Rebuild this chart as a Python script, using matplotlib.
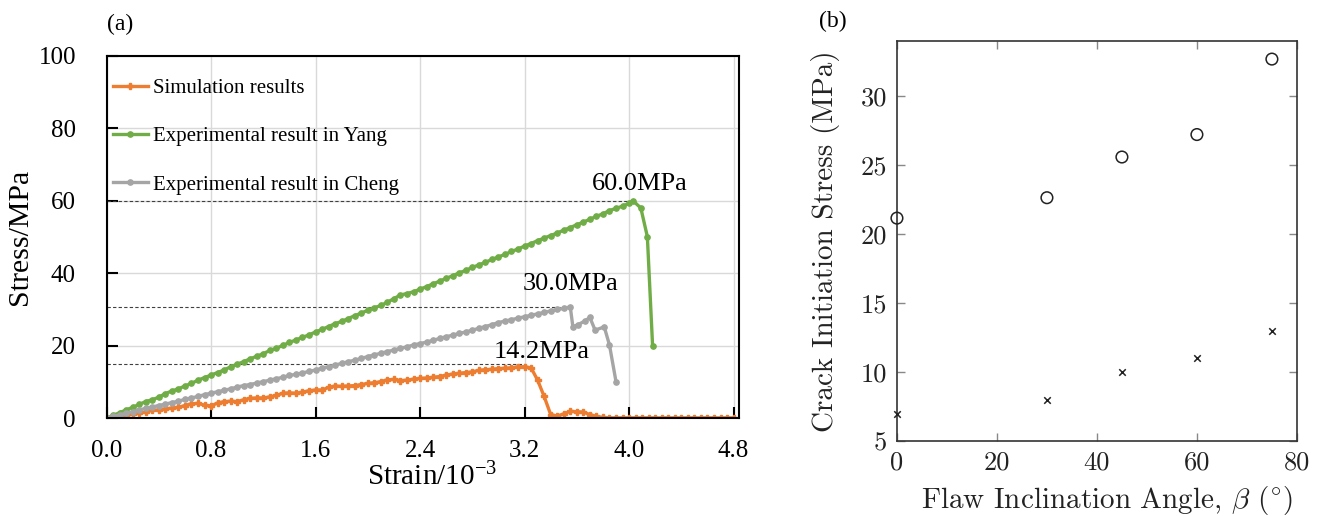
"""
Stress-strain curves (a) and crack initiation stress vs flaw angle (b)
"""

import numpy as np
import matplotlib
matplotlib.use("Agg")
import matplotlib.pyplot as plt

plt.rcParams['mathtext.fontset'] = 'cm'

# ---- panel (a) data: stress in MPa sampled every 0.05e-3 strain ----
STEP = 0.05

sim_stress = [
    0.0, 0.2, 0.5, 0.8, 1.1, 1.4, 1.7, 2.2, 2.3, 2.6, 2.8, 3.0, 3.5, 4.0, 4.1, 3.6, 3.4, 4.2, 4.6, 4.7,
    4.6, 5.1, 5.5, 5.6, 5.6, 5.9, 6.3, 6.9, 7.0, 6.9, 7.2, 7.6, 7.8, 7.8, 8.5, 8.9, 8.8, 8.9, 9.0, 9.3,
    9.6, 9.8, 10.1, 10.6, 10.7, 10.4, 10.5, 10.8, 11.0, 11.1, 11.3, 11.5, 11.9, 12.2, 12.4, 12.6, 12.8, 13.2, 13.4, 13.5,
    13.7, 13.8, 13.9, 14.2, 14.2, 13.9, 10.5, 6.0, 1.0, 0.6, 1.2, 1.9, 1.8, 1.7, 1.0, 0.5, 0.2, 0.1, 0.1, 0.1,
    0.1, 0.1, 0.1, 0.1, 0.1, 0.1, 0.1, 0.1, 0.1, 0.1, 0.1, 0.1, 0.1, 0.1, 0.1, 0.1, 0.1,
]

yang_rise = [
    0.0, 0.8, 1.5, 2.3, 3.0, 3.8, 4.6, 5.1, 5.8, 6.8, 7.5, 8.1, 8.9, 9.6, 10.5, 11.2, 11.9, 12.6, 13.3, 14.2,
    14.9, 15.6, 16.4, 17.1, 17.8, 18.7, 19.3, 20.1, 20.9, 21.6, 22.3, 23.0, 23.8, 24.5, 25.3, 26.1, 26.7, 27.5, 28.3, 29.0,
    29.8, 30.5, 31.1, 32.0, 33.0, 34.0, 34.4, 34.9, 35.6, 36.3, 37.1, 37.8, 38.6, 39.3, 40.1, 40.8, 41.6, 42.3, 43.0, 43.8,
    44.5, 45.2, 46.0, 46.7, 47.5, 48.2, 49.0, 49.7, 50.4, 51.1, 51.9, 52.6, 53.4, 54.1, 54.9, 55.7, 56.4, 57.3, 57.9, 58.5,
    59.3,
]
yang_tail_strain = [4.03, 4.09, 4.14, 4.18]
yang_tail_stress = [60.0, 58.0, 50.1, 20.0]

cheng_rise = [
    0.0, 0.5, 0.9, 1.4, 1.8, 2.3, 2.7, 3.1, 3.5, 3.9, 4.3, 4.7, 5.2, 5.6, 6.0, 6.5, 6.9, 7.3, 7.7, 8.1,
    8.6, 9.0, 9.3, 9.7, 10.1, 10.5, 10.9, 11.3, 11.8, 12.1, 12.5, 12.9, 13.3, 13.8, 14.2, 14.7, 15.1, 15.6, 16.0, 16.5,
    17.0, 17.5, 17.9, 18.4, 18.8, 19.3, 19.7, 20.2, 20.6, 21.0, 21.5, 22.0, 22.5, 22.9, 23.4, 23.8, 24.3, 24.8, 25.3, 25.8,
    26.4, 26.8, 27.2, 27.6, 28.0, 28.4, 28.8, 29.2, 29.6, 30.0, 30.3,
]
cheng_tail_strain = [3.55, 3.57, 3.61, 3.66, 3.70, 3.74, 3.81, 3.85, 3.90]
cheng_tail_stress = [30.7, 25.2, 25.8, 26.8, 27.8, 24.3, 25.2, 20.2, 10.1]

peak_levels = [60.0, 30.7, 14.9]
peak_ends = [4.03, 3.55, 3.20]
peak_labels = ['60.0MPa', '30.0MPa', '14.2MPa']
peak_label_pos = [(4.08, 64.5), (3.55, 37.0), (3.33, 18.3)]

# ---- panel (b) data ----
angle = [0, 30, 45, 60, 75]
stress_circle = [21.16, 22.64, 25.59, 27.22, 32.69]
stress_cross = [6.96, 8.0, 9.98, 11.0, 12.99]

sim_strain = np.arange(len(sim_stress)) * STEP
yang_strain = np.concatenate([np.arange(len(yang_rise)) * STEP, yang_tail_strain])
yang_stress = yang_rise + yang_tail_stress
cheng_strain = np.concatenate([np.arange(len(cheng_rise)) * STEP, cheng_tail_strain])
cheng_stress = cheng_rise + cheng_tail_stress

fig = plt.figure(figsize=(13.2, 5.16), dpi=100)

# ================= (a) =================
serif = 'Liberation Serif'
ax = fig.add_axes([0.0807, 0.1895, 0.479, 0.7024])

orange = '#ED7D31'
green = '#70AD47'
gray = '#A5A5A5'

ax.plot(sim_strain, sim_stress, color=orange, lw=2.4, marker='P', ms=4,
        mec=orange, label='Simulation results')
ax.plot(yang_strain, yang_stress, color=green, lw=2.4, marker='o', ms=3.8,
        label='Experimental result in Yang')
ax.plot(cheng_strain, cheng_stress, color=gray, lw=2.4, marker='o', ms=3.8,
        label='Experimental result in Cheng')

for lev, end in zip(peak_levels, peak_ends):
    ax.plot([0, end], [lev, lev], color='#404040', lw=0.8, ls=(0, (3, 2)), zorder=1)

for txt, (px, py) in zip(peak_labels, peak_label_pos):
    ax.text(px, py, txt, ha='center', va='center', fontsize=19, family=serif)

ax.set_xlim(0, 4.84)
ax.set_ylim(0, 100)
ax.set_xticks([0.0, 0.8, 1.6, 2.4, 3.2, 4.0, 4.8])
ax.set_xticklabels(['0.0', '0.8', '1.6', '2.4', '3.2', '4.0', '4.8'])
ax.set_yticks([0, 20, 40, 60, 80, 100])
ax.grid(True, color='#d9d9d9', lw=1)
ax.set_axisbelow(True)
ax.tick_params(direction='in', length=8, width=1.5, labelsize=18)
ax.tick_params(axis='y', pad=22)
ax.tick_params(axis='x', pad=16)
for lab in ax.get_xticklabels() + ax.get_yticklabels():
    lab.set_family(serif)
for sp in ax.spines.values():
    sp.set_linewidth(1.5)
    sp.set_color('black')

ax.set_xlabel(r'Strain/10$\mathregular{^{-3}}$', fontsize=21, family=serif, labelpad=0)
ax.xaxis.label.set_x(0.514)
ax.set_ylabel('Stress/MPa', fontsize=21.5, family=serif, labelpad=4)

leg = ax.legend(loc='upper left', bbox_to_anchor=(0.0, 0.954), frameon=False,
                prop={'family': serif, 'size': 15}, labelspacing=1.37,
                handlelength=1.7, handletextpad=0.25, borderaxespad=0.3, borderpad=0)

fig.text(120 / 1320, 1 - 24 / 516, '(a)', ha='center', va='center', fontsize=17, family=serif)

# ================= (b) =================
cm = 'cmr10'
bx = fig.add_axes([0.6795, 0.1453, 0.303, 0.7752])
bx.scatter(angle, stress_circle, s=70, facecolors='none', edgecolors='#222222', lw=1.1, clip_on=False, zorder=3)
bx.scatter(angle, stress_cross, s=22, marker='x', color='#222222', lw=1.1, clip_on=False, zorder=3)
bx.set_xlim(0, 80)
bx.set_ylim(5, 34)
bx.set_xticks([0, 20, 40, 60, 80])
bx.set_yticks([5, 10, 15, 20, 25, 30])
bx.tick_params(direction='in', length=6, width=1, color='#888888', top=True, right=True,
               labelsize=19, labelcolor='#222222', pad=7)
for lab in bx.get_xticklabels() + bx.get_yticklabels():
    lab.set_family(cm)
for sp in bx.spines.values():
    sp.set_linewidth(1.2)
    sp.set_color('#333333')

bx.set_xlabel(r'Flaw Inclination Angle, $\beta$ ($^{\circ}$)', fontsize=21, family=cm,
              color='#222222', labelpad=7)
bx.xaxis.label.set_x(0.525)
bx.set_ylabel('Crack Initiation Stress (MPa)', fontsize=21, family=cm,
              color='#222222', labelpad=15)

fig.text(833 / 1320, 1 - 21 / 516, '(b)', ha='center', va='center', fontsize=17, family=serif)

fig.savefig('out.png', dpi=100)
